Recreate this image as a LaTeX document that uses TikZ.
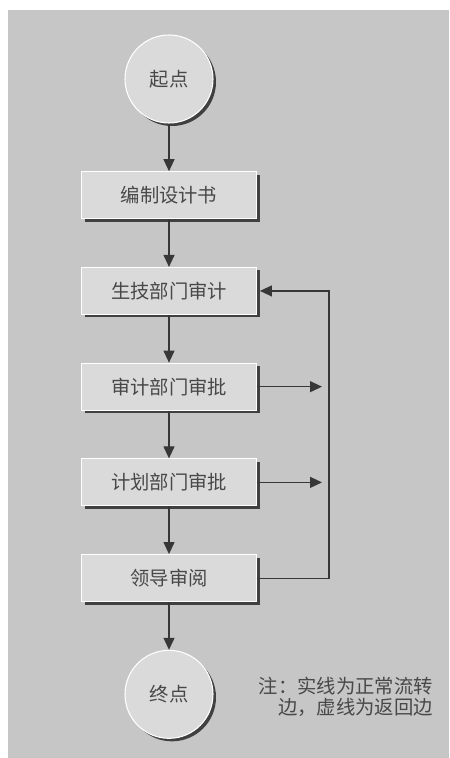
\documentclass[tikz,border=0pt]{standalone}
\usepackage{fontspec}
\setmainfont{Noto Sans CJK SC}
\usetikzlibrary{arrows.meta,positioning,shadows,calc}
\definecolor{paper}{RGB}{198,198,198}
\definecolor{boxfill}{RGB}{218,218,218}
\definecolor{ink}{RGB}{72,72,72}
\definecolor{wire}{RGB}{55,55,55}

\begin{document}
\begin{tikzpicture}[node distance=1.43cm, every node/.style={font=\fontsize{16.5pt}{19pt}\selectfont,text=ink,align=center}, stepbox/.style={draw=white,line width=0.9pt,fill=boxfill,minimum width=5.25cm,minimum height=1.41cm,drop shadow={shadow xshift=0.9mm,shadow yshift=-0.9mm,fill=black!75,opacity=1}}, startend/.style={circle,draw=white,line width=0.9pt,fill=boxfill,minimum size=2.64cm,drop shadow={shadow xshift=0.9mm,shadow yshift=-0.9mm,fill=black!75,opacity=1}}, arr/.style={-{Triangle[length=3.6mm,width=3.3mm]},line width=1pt,wire}, note/.style={align=right,font=\fontsize{16.5pt}{18.5pt}\selectfont}]
  \useasboundingbox (0,0) rectangle (13.47,-22.74);
  \fill[paper] (0.24,-0.30) rectangle (13.47,-22.74);
  \node[startend] (start) at (5.07,-2.37) {起点};
  \node[stepbox,below=of start] (plan) {编制设计书};
  \node[stepbox,below=of plan] (tech) {生技部门审计};
  \node[stepbox,below=of tech] (audit) {审计部门审批};
  \node[stepbox,below=of audit] (planning) {计划部门审批};
  \node[stepbox,below=of planning] (lead) {领导审阅};
  \node[startend,below=of lead] (stop) {终点};
  \coordinate (loopx) at (9.87,0);
  \coordinate (stub) at (9.66,0);
  \draw[arr] (start) -- (plan);
  \draw[arr] (plan) -- (tech);
  \draw[arr] (tech) -- (audit);
  \draw[arr] (audit) -- (planning);
  \draw[arr] (planning) -- (lead);
  \draw[arr] (lead) -- (stop);
  \draw[arr] (audit.east) -- (audit.east -| stub);
  \draw[arr] (planning.east) -- (planning.east -| stub);
  \draw[arr,shorten >=2.5pt] (lead.east) -- (lead.east -| loopx) |- (tech.east);
  \node[note,anchor=east] (remark) at (13.11,-20.91) {注：实线为正常流转\\边，虚线为返回边};
\end{tikzpicture}
\end{document}
